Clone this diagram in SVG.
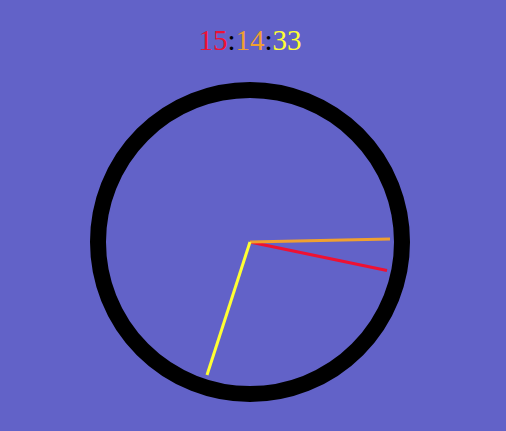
<svg xmlns="http://www.w3.org/2000/svg" width="506" height="431" viewBox="0 0 506 431">
<style>
.hand{stroke-width:3;stroke-linecap:butt;fill:none}
.t{font-family:"Liberation Serif","Times New Roman",serif;font-size:29px}
</style>
<rect width="506" height="431" fill="#6262c8"/>
<g id="time">
<text class="t" x="250" y="49.5" text-anchor="middle"><tspan fill="#ee1133">15</tspan><tspan fill="#000">:</tspan><tspan fill="#f0a030">14</tspan><tspan fill="#000">:</tspan><tspan fill="#ffff33">33</tspan></text>
</g>
<g id="dial">
<circle cx="250" cy="242" r="152" fill="none" stroke="#000" stroke-width="16"/>
</g>
<g id="hands">
<line class="hand" x1="250" y1="242" x2="387" y2="270.5" stroke="#ee1133"/>
<line class="hand" x1="250" y1="242" x2="390" y2="239" stroke="#f0a030"/>
<line class="hand" x1="250" y1="242" x2="207" y2="375" stroke="#ffff33"/>
</g>
</svg>
